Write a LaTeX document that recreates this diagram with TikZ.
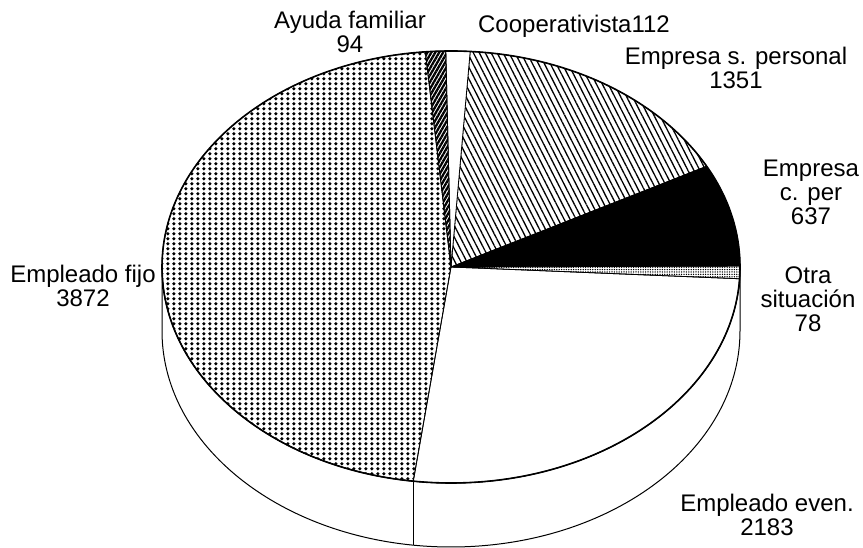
\documentclass[tikz,border=0pt]{standalone}
\usepackage{fontspec}
\setmainfont{Liberation Sans}
\usetikzlibrary{calc,patterns,patterns.meta}

\pgfdeclarepatternformonly{piedots}{\pgfqpoint{0pt}{0pt}}{\pgfqpoint{6.4pt}{5.2pt}}{\pgfqpoint{6.4pt}{5.2pt}}{%
  \pgfpathellipse{\pgfqpoint{3.2pt}{2.6pt}}{\pgfqpoint{1.9pt}{0pt}}{\pgfqpoint{0pt}{2.1pt}}\pgfusepath{fill}}

\newcommand\pieslice[3]{%
  \path[#3] (C) -- ($(C)+(#1:289pt and 216pt)$)
    arc[start angle=#1, end angle=#2, x radius=289pt, y radius=216pt] -- cycle;}

\begin{document}
\begin{tikzpicture}[x=1pt,y=1pt,
  lbl/.style={font=\fontsize{24}{24}\selectfont, align=center, anchor=north, inner sep=0pt},
  wallline/.style={draw=black, line width=1pt},
  sliceline/.style={draw=black, line width=0.8pt},
  fijo/.style={sliceline, pattern=piedots},
  even/.style={sliceline, fill=white},
  otra/.style={sliceline, pattern={Dots[distance=2.4pt, radius=0.75pt]}},
  ecper/.style={sliceline, fill=black},
  espers/.style={sliceline, pattern={Lines[angle=-63, distance=5.3pt, line width=1.3pt]}},
  coop/.style={sliceline, fill=white},
  ayuda/.style={sliceline, pattern={Lines[angle=60, distance=3.4pt, line width=2.3pt]}}]
\useasboundingbox (0,0) rectangle (863,548);
\fill[white] (0,0) rectangle (863,548);
\coordinate (C) at (451,281);

% side wall (front half)
\draw[wallline, fill=white] ($(C)+(180:289pt and 216pt)$) coordinate (wl) -- ++(0,-64)
  arc[start angle=180, end angle=360, x radius=289pt, y radius=216pt]
  -- ($(C)+(0:289pt and 216pt)$) coordinate (wr)
  arc[start angle=0, end angle=-180, x radius=289pt, y radius=216pt] -- cycle;
\draw[wallline] ($(C)+(-97.5:289pt and 216pt)$) coordinate (w1) -- ++(0,-64) coordinate (w2);

% top slices
\pieslice{-97.5}{-3.124}{even}
\pieslice{-3.124}{0.248}{otra}
\pieslice{0.248}{27.787}{ecper}
\pieslice{27.787}{86.193}{espers}
\pieslice{86.193}{91.035}{coop}
\pieslice{91.035}{95.099}{ayuda}
\pieslice{95.099}{262.5}{fijo}

% top outline
\draw[line width=1.6pt] (C) ellipse[x radius=289pt, y radius=216pt];

% labels
\node[lbl] (ayudalbl) at (350,537) {Ayuda familiar\\94};
\node[lbl] (cooplbl) at (574,533) {Cooperativista112};
\node[lbl] (esplbl) at (736,501) {Empresa s. personal\\1351};
\node[lbl] (ecplbl) at (811,388) {Empresa\\c. per\\637};
\node[lbl] (otralbl) at (808,281) {Otra\\situación\\78};
\node[lbl] (fijolbl) at (83,283) {Empleado fijo\\3872};
\node[lbl] (evenlbl) at (767,54) {Empleado even.\\2183};
\end{tikzpicture}
\end{document}
